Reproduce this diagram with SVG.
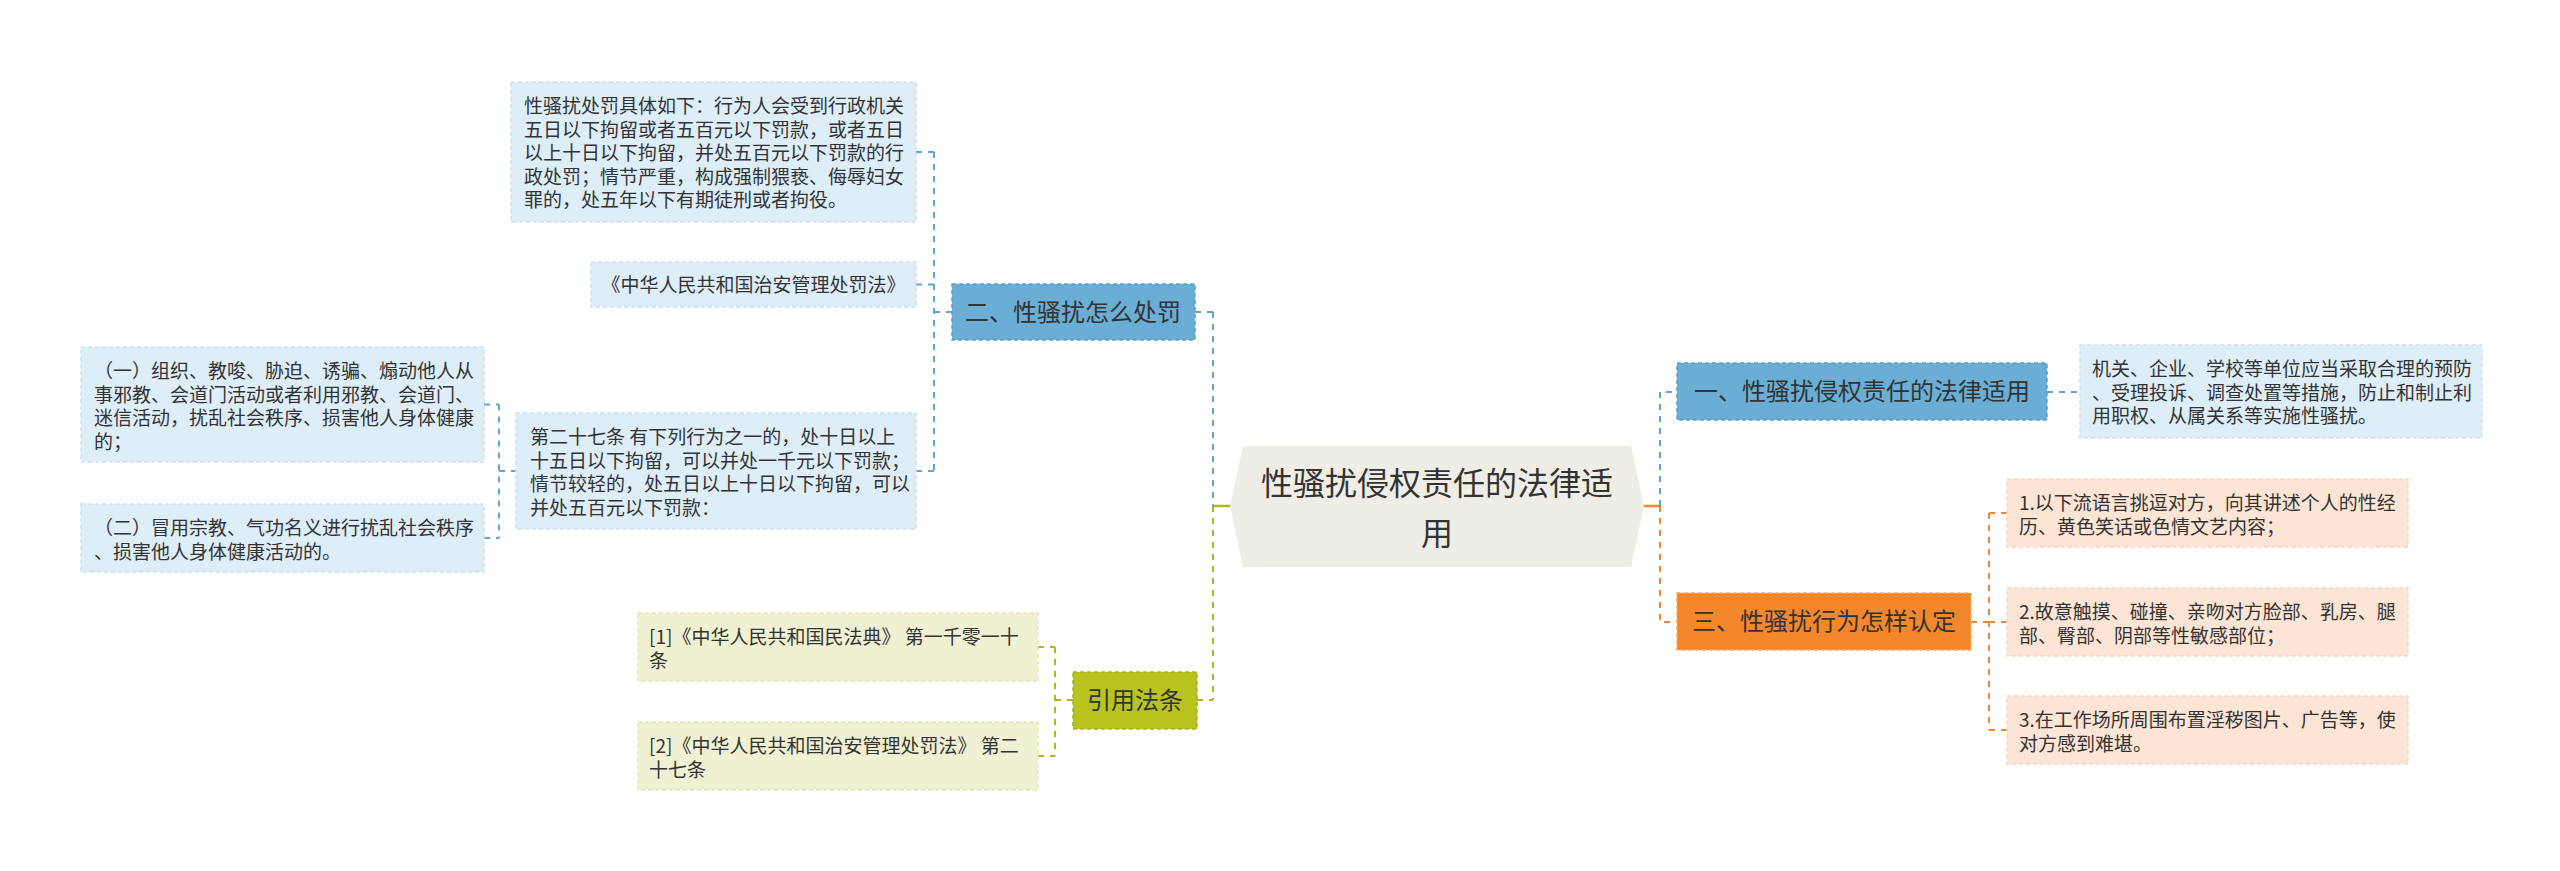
<svg xmlns="http://www.w3.org/2000/svg" width="2560" height="871" viewBox="0 0 2560 871">
<style>
text{font-family:"Noto Sans CJK SC","Noto Sans",sans-serif;fill:#333333}
.d{font-size:19px}
.t{font-size:24px;text-anchor:middle}
.c{font-size:32px;text-anchor:middle}
.lb{fill:#DEEEF8;stroke:#CBE1EF;stroke-width:1.5;stroke-dasharray:4 3}
.bn{fill:#6AAED6;stroke:#5A9FCA;stroke-width:1.5;stroke-dasharray:4 3}
.lo{fill:#EFF1D2;stroke:#E2E6B8;stroke-width:1.5;stroke-dasharray:4 3}
.on{fill:#B8C320;stroke:#A8B318;stroke-width:1.5;stroke-dasharray:4 3}
.lp{fill:#FCE5D4;stroke:#F6D6C0;stroke-width:1.5;stroke-dasharray:4 3}
.or{fill:#F4872C;stroke:#F9A762;stroke-width:1.5;stroke-dasharray:4 3}
.cb{fill:none;stroke:#5DA6D4;stroke-width:2;stroke-dasharray:6 6}
.cg{fill:none;stroke:#A9B720;stroke-width:2;stroke-dasharray:6 6}
.co{fill:none;stroke:#EE8834;stroke-width:2;stroke-dasharray:6 6}
</style>
<rect width="2560" height="871" fill="#FFFFFF"/>
<g id="connectors">
<path class="cb" d="M916 152H934M916 284.5H934M934 312H952M916 471H934M934 152V471"/>
<path class="cb" d="M484 404.5H499M484 538H499M499 471H516M499 404.5V538"/>
<path class="cb" d="M1195 312H1213M1213 312V506"/>
<path class="cg" d="M1197 700H1213M1213 506V700"/>
<path d="M1213 506H1232" stroke="#A9B720" stroke-width="2.5" fill="none"/>
<path class="cg" d="M1038 647H1055M1038 756H1055M1055 700H1073M1055 647V756"/>
<path d="M1643 506H1660" stroke="#EE8834" stroke-width="2.5" fill="none"/>
<path class="cb" d="M1660 506V392H1677M2047 392H2080"/>
<path class="co" d="M1660 506V622H1677"/>
<path class="co" d="M1971 622H1989M1989 513H2007M1989 622H2007M1989 730H2007M1989 513V730"/>
</g>
<g id="center">
<polygon points="1243,446 1631,446 1644,506 1631,567 1243,567 1230,506" fill="#EEEEE6"/>
<text class="c" x="1437" y="495">性骚扰侵权责任的法律适</text>
<text class="c" x="1437" y="545">用</text>
</g>
<g id="n2">
<rect class="bn" x="952" y="284" width="243" height="56"/>
<text class="t" x="1073" y="321">二、性骚扰怎么处罚</text>
</g>
<g id="n2a">
<rect class="lb" x="511" y="82" width="405" height="140"/>
<text class="d" x="524" y="113">性骚扰处罚具体如下：行为人会受到行政机关</text>
<text class="d" x="524" y="136.6">五日以下拘留或者五百元以下罚款，或者五日</text>
<text class="d" x="524" y="160.2">以上十日以下拘留，并处五百元以下罚款的行</text>
<text class="d" x="524" y="183.8">政处罚；情节严重，构成强制猥亵、侮辱妇女</text>
<text class="d" x="524" y="207.4">罪的，处五年以下有期徒刑或者拘役。</text>
</g>
<g id="n2b">
<rect class="lb" x="591" y="262" width="325" height="45"/>
<text class="d" x="753.5" y="291.5" text-anchor="middle">《中华人民共和国治安管理处罚法》</text>
</g>
<g id="n2c">
<rect class="lb" x="516" y="413" width="400" height="116"/>
<text class="d" x="530" y="444">第二十七条 有下列行为之一的，处十日以上</text>
<text class="d" x="530" y="467.6">十五日以下拘留，可以并处一千元以下罚款；</text>
<text class="d" x="530" y="491.2">情节较轻的，处五日以上十日以下拘留，可以</text>
<text class="d" x="530" y="514.8">并处五百元以下罚款：</text>
</g>
<g id="n2c1">
<rect class="lb" x="81" y="347" width="403" height="115"/>
<text class="d" x="94" y="378">（一）组织、教唆、胁迫、诱骗、煽动他人从</text>
<text class="d" x="94" y="401.6">事邪教、会道门活动或者利用邪教、会道门、</text>
<text class="d" x="94" y="425.2">迷信活动，扰乱社会秩序、损害他人身体健康</text>
<text class="d" x="94" y="448.8">的；</text>
</g>
<g id="n2c2">
<rect class="lb" x="81" y="504" width="403" height="68"/>
<text class="d" x="94" y="535">（二）冒用宗教、气功名义进行扰乱社会秩序</text>
<text class="d" x="94" y="558.6">、损害他人身体健康活动的。</text>
</g>
<g id="nref">
<rect class="on" x="1073" y="672" width="124" height="57"/>
<text class="t" x="1135" y="709">引用法条</text>
</g>
<g id="nref1">
<rect class="lo" x="638" y="613" width="400" height="68"/>
<text class="d" x="649" y="644">[1]《中华人民共和国民法典》 第一千零一十</text>
<text class="d" x="649" y="667.6">条</text>
</g>
<g id="nref2">
<rect class="lo" x="638" y="722" width="400" height="68"/>
<text class="d" x="649" y="753">[2]《中华人民共和国治安管理处罚法》 第二</text>
<text class="d" x="649" y="776.6">十七条</text>
</g>
<g id="n1">
<rect class="bn" x="1677" y="363" width="370" height="57"/>
<text class="t" x="1862" y="400">一、性骚扰侵权责任的法律适用</text>
</g>
<g id="n1a">
<rect class="lb" x="2080" y="345" width="402" height="93"/>
<text class="d" x="2092" y="376">机关、企业、学校等单位应当采取合理的预防</text>
<text class="d" x="2092" y="399.6">、受理投诉、调查处置等措施，防止和制止利</text>
<text class="d" x="2092" y="423.2">用职权、从属关系等实施性骚扰。</text>
</g>
<g id="n3">
<rect class="or" x="1677" y="593" width="294" height="57"/>
<text class="t" x="1824" y="630">三、性骚扰行为怎样认定</text>
</g>
<g id="n3a">
<rect class="lp" x="2007" y="479" width="401" height="68"/>
<text class="d" x="2019" y="510">1.以下流语言挑逗对方，向其讲述个人的性经</text>
<text class="d" x="2019" y="533.6">历、黄色笑话或色情文艺内容；</text>
</g>
<g id="n3b">
<rect class="lp" x="2007" y="588" width="401" height="68"/>
<text class="d" x="2019" y="619">2.故意触摸、碰撞、亲吻对方脸部、乳房、腿</text>
<text class="d" x="2019" y="642.6">部、臀部、阴部等性敏感部位；</text>
</g>
<g id="n3c">
<rect class="lp" x="2007" y="696" width="401" height="68"/>
<text class="d" x="2019" y="727">3.在工作场所周围布置淫秽图片、广告等，使</text>
<text class="d" x="2019" y="750.6">对方感到难堪。</text>
</g>
</svg>
